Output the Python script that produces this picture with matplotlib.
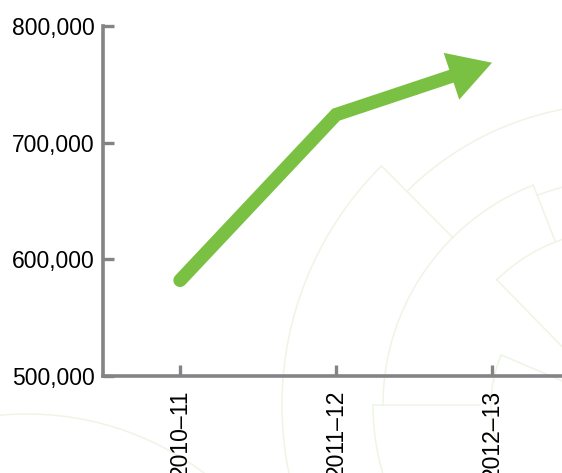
import matplotlib
matplotlib.use("Agg")
import matplotlib.pyplot as plt  # noqa: E402
import numpy as np  # noqa: E402

years = ["2010\u201311", "2011\u201312", "2012\u201313"]
values = [582000, 724000, 768500]
y_ticks = [500000, 600000, 700000, 800000]

GREEN = "#7ac143"
GREY = "#848487"
FAINT = "#eef5e4"

W, H = 562, 473
fig = plt.figure(figsize=(W / 100, H / 100), dpi=100)
plt.rcParams["font.family"] = ["Liberation Sans", "DejaVu Sans"]

# Background watermark (pixel coords).
bg = fig.add_axes([0, 0, 1, 1], zorder=0)
bg.set_xlim(0, W)
bg.set_ylim(H, 0)
bg.axis("off")


def arc(cx, cy, r, a0, a1):
    t = np.radians(np.linspace(a0, a1, 120))
    bg.plot(cx + r * np.cos(t), cy - r * np.sin(t), color=FAINT, lw=1.1)


def radial(cx, cy, a, r0, r1):
    t = np.radians(a)
    bg.plot([cx + r0 * np.cos(t), cx + r1 * np.cos(t)],
            [cy - r0 * np.sin(t), cy - r1 * np.sin(t)], color=FAINT, lw=1.1)


cx, cy = 619, 405
arc(cx, cy, 337, 134.8, 200)
radial(cx, cy, 134.8, 236, 337)
arc(cx, cy, 301, 90, 134.8)
arc(cx, cy, 236, 111.3, 180)
radial(cx, cy, 111.3, 176, 236)
arc(cx, cy, 225, 90, 111.3)
arc(cx, cy, 175, 95, 134.3)
radial(cx, cy, 134.3, 80, 175)
radial(cx, cy, 180, 139, 246)
arc(cx, cy, 246, 180, 200)
arc(cx, cy, 128, 157, 200)
radial(cx, cy, 157, 60, 128)
arc(27, 709, 295, 50, 100)

# Main chart.
ax = fig.add_axes([103 / W, 97 / H, 0.831, 0.74], zorder=1)
ax.patch.set_alpha(0)
x = np.arange(len(years))

# Thick line up to the middle of the last segment, then arrow to the last value.
mid_x = (x[1] + x[2]) / 2
mid_y = (values[1] + values[2]) / 2
ax.plot([x[0], x[1], mid_x], [values[0], values[1], mid_y], color=GREEN,
        lw=9.7, solid_capstyle="round", solid_joinstyle="miter", zorder=3)
ax.annotate("", xy=(x[2], values[2]), xytext=(mid_x, mid_y),
            arrowprops=dict(arrowstyle="simple,head_length=30.8,head_width=35.5,tail_width=9.7",
                            color=GREEN, lw=0, shrinkA=0, shrinkB=0,
                            mutation_scale=1), zorder=3)

ax.set_xlim(-0.494, 2.5)
ax.set_ylim(500000, 800000)
ax.set_xticks(x)
ax.set_xticklabels(years, rotation=90, va="top")
ax.set_yticks(y_ticks)
ax.set_yticklabels([f"{v:,}" for v in y_ticks])

for side in ["top", "right"]:
    ax.spines[side].set_visible(False)
for side in ["left", "bottom"]:
    ax.spines[side].set_color(GREY)
    ax.spines[side].set_linewidth(2.6)
ax.tick_params(axis="both", direction="in", length=8, width=2.4, color=GREY,
               labelsize=16.5, labelcolor="black")
ax.tick_params(axis="y", pad=6)
ax.tick_params(axis="x", pad=10)

fig.savefig("out.png", dpi=100)
